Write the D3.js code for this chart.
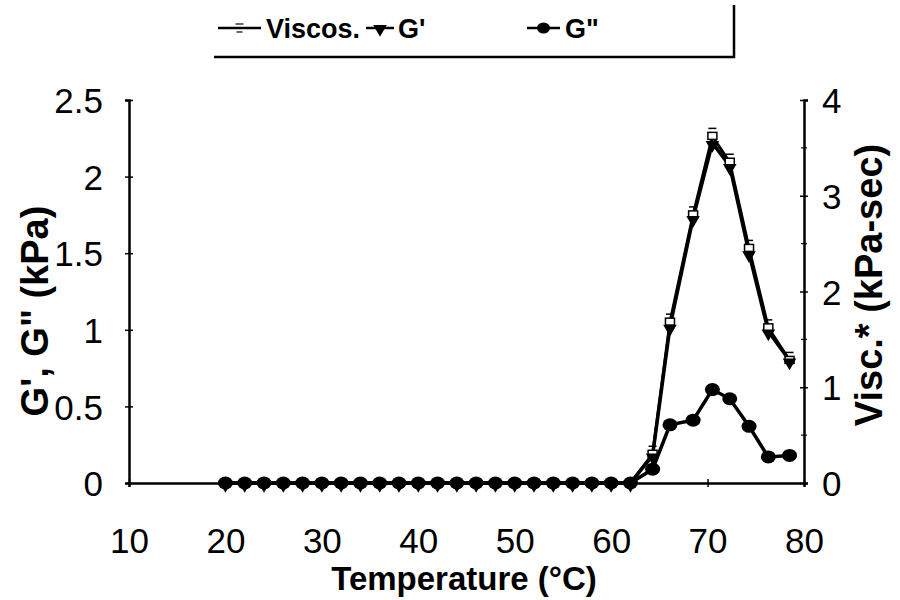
<!DOCTYPE html>
<meta charset="utf-8">
<html>
<head>
    <title>Viscosity and moduli vs temperature</title>
    <script src="https://cdn.jsdelivr.net/npm/d3@7"></script>
</head>
<style>
    body{ margin:0; background:#fff; }
    svg{ width:900px; height:600px; display:block; }
    text{ font-family:"Liberation Sans", Arial, sans-serif; fill:#000; }
    .tick text{ font-size:35px; }
    .title{ font-weight:bold; }
    .leg{ font-size:27px; font-weight:bold; }
</style>
<body>
<svg></svg>
<script>
    // temperatures (°C)
    const temps = [20,22,24,26,28,30,32,34,36,38,40,42,44,46,48,50,52,54,56,58,60,62,
                   64.3,66.1,68.5,70.5,72.3,74.3,76.3,78.5]
    // G' (kPa)
    const gPrime = [0,0,0,0,0,0,0,0,0,0,0,0,0,0,0,0,0,0,0,0,0,0,
                    0.18,1.02,1.73,2.22,2.07,1.50,0.99,0.80]
    // G'' (kPa)
    const gDouble = [0,0,0,0,0,0,0,0,0,0,0,0,0,0,0,0,0,0,0,0,0,0,
                     0.09,0.38,0.41,0.61,0.55,0.37,0.17,0.18]
    // complex viscosity (kPa-sec)
    const visc = [0,0,0,0,0,0,0,0,0,0,0,0,0,0,0,0,0,0,0,0,0,0,
                  0.30,1.68,2.80,3.62,3.35,2.45,1.62,1.28]

    const xTicks = [10,20,30,40,50,60,70,80]
    const yTicks = [0,0.5,1,1.5,2,2.5]
    const y2Ticks = [0,1,2,3,4]

    const svg = d3.select("svg")
    const mLeft = 129, mRight = 804, mTop = 100, mBottom = 483

    const x = d3.scaleLinear().domain([10,80]).range([mLeft,mRight])
    const y = d3.scaleLinear().domain([0,2.5]).range([mBottom,mTop])
    const y2 = d3.scaleLinear().domain([0,4]).range([mBottom,mTop])

    // ***************************************
    //        axes
    // ***************************************
    const gx = svg.append("g").attr("transform",`translate(0,${mBottom})`)
        .call(d3.axisBottom(x).tickValues(xTicks).tickSize(4).tickPadding(41).tickFormat(d3.format("d")))
    const gy = svg.append("g").attr("transform",`translate(${mLeft},0)`)
        .call(d3.axisLeft(y).tickValues(yTicks).tickSize(4).tickPadding(22).tickFormat(d=>d))
    const gy2 = svg.append("g").attr("transform",`translate(${mRight},0)`)
        .call(d3.axisRight(y2).tickValues(y2Ticks).tickSize(4).tickPadding(14).tickFormat(d3.format("d")))

    svg.selectAll(".domain").attr("stroke","#000").attr("stroke-width",2.5)
    svg.selectAll(".tick line").attr("stroke","#000").attr("stroke-width",1.5)
    // ticks crossing the axes
    gy.selectAll(".tick line").attr("x1",4)
    gy2.selectAll(".tick line").attr("x1",-4)
    gx.selectAll(".tick line").attr("y1",-4)
    gy.selectAll(".tick text").attr("dy","0.36em")
    gy2.selectAll(".tick text").attr("dy","0.36em")

    // minor ticks on the right axis
    svg.append("g").selectAll("line").data([0.5,1.5,2.5,3.5]).join("line")
        .attr("x1",mRight-3).attr("x2",mRight+3)
        .attr("y1",d=>y2(d)).attr("y2",d=>y2(d))
        .attr("stroke","#000").attr("stroke-width",1.2)

    // ***************************************
    //        lines
    // ***************************************
    const idx = d3.range(temps.length)
    const lineOf = (vals, sc) => d3.line().x(i=>x(temps[i])).y(i=>sc(vals[i]))(idx)

    svg.append("path").attr("d",lineOf(visc,y2)).attr("fill","none")
        .attr("stroke","#000").attr("stroke-width",3)
    svg.append("path").attr("d",lineOf(gPrime,y)).attr("fill","none")
        .attr("stroke","#000").attr("stroke-width",3.5)
    svg.append("path").attr("d",lineOf(gDouble,y)).attr("fill","none")
        .attr("stroke","#000").attr("stroke-width",3.5)

    // markers
    const vm = svg.append("g").selectAll("g").data(idx.filter(i=>visc[i]>0)).join("g")
        .attr("transform",i=>`translate(${x(temps[i])},${y2(visc[i])})`)
    vm.append("rect").attr("x",-4.5).attr("y",-4).attr("width",9).attr("height",7)
        .attr("fill","#fff").attr("stroke","#000").attr("stroke-width",1.5)
    vm.append("line").attr("x1",-4).attr("x2",4).attr("y1",-8).attr("y2",-8)
        .attr("stroke","#000").attr("stroke-width",1.5)

    const tri = d3.symbol().type(d3.symbolTriangle).size(80)
    svg.append("g").selectAll("path").data(idx).join("path")
        .attr("d",tri)
        .attr("transform",i=>`translate(${x(temps[i])},${y(gPrime[i])+2}) rotate(180)`)
        .attr("fill","#000")

    svg.append("g").selectAll("ellipse").data(idx).join("ellipse")
        .attr("cx",i=>x(temps[i])).attr("cy",i=>y(gDouble[i]))
        .attr("rx",7.5).attr("ry",6.5).attr("fill","#000")

    // ***************************************
    //        titles
    // ***************************************
    svg.append("text").attr("class","title").attr("text-anchor","middle")
        .style("font-size","33px")
        .attr("x",464).attr("y",590).text("Temperature (°C)")
    svg.append("text").attr("class","title").attr("text-anchor","middle")
        .style("font-size","38px")
        .attr("transform","translate(48,311) rotate(-90)").text("G', G\" (kPa)")
    svg.append("text").attr("class","title").attr("text-anchor","middle")
        .style("font-size","38px")
        .attr("transform","translate(882,285) rotate(-90)").text("Visc.* (kPa-sec)")

    // ***************************************
    //        legend
    // ***************************************
    const leg = svg.append("g")
    leg.append("path").attr("d","M214,57 H734 V5").attr("fill","none")
        .attr("stroke","#000").attr("stroke-width",2.5)
    const legItems = [
        {name:"Viscos.", x0:218, x1:261, tx:266},
        {name:"G'", x0:366, x1:394, tx:398},
        {name:"G\"", x0:527, x1:560, tx:565}
    ]
    legItems.forEach((d,k)=>{
        leg.append("line").attr("x1",d.x0).attr("x2",d.x1).attr("y1",28).attr("y2",28)
            .attr("stroke","#000").attr("stroke-width",2.5)
        const mx = (d.x0+d.x1)/2
        if(k===0){
            leg.append("line").attr("x1",mx-4).attr("x2",mx+4).attr("y1",24).attr("y2",24)
                .attr("stroke","#000").attr("stroke-width",1.2)
            leg.append("line").attr("x1",mx-3).attr("x2",mx+3).attr("y1",32).attr("y2",32)
                .attr("stroke","#000").attr("stroke-width",1.2)
        } else if(k===1){
            leg.append("path").attr("d",tri).attr("fill","#000")
                .attr("transform",`translate(${mx},29) rotate(180)`)
        } else {
            leg.append("ellipse").attr("cx",mx).attr("cy",28).attr("rx",6.5).attr("ry",5.5).attr("fill","#000")
        }
        leg.append("text").attr("class","leg").attr("x",d.tx).attr("y",38).text(d.name)
    })
</script>
</body>
</html>
